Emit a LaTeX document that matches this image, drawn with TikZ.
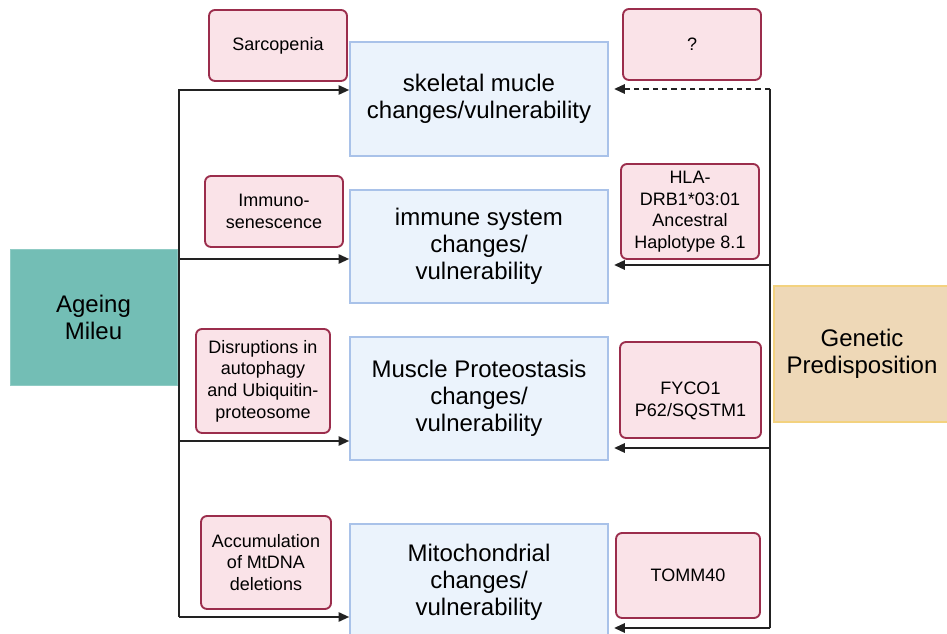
\documentclass[tikz,border=0pt]{standalone}
\usepackage{fontspec}
\setmainfont{Liberation Sans}
\usetikzlibrary{arrows.meta}
\definecolor{tealfill}{HTML}{73BEB5}
\definecolor{tanfill}{HTML}{EED8B7}
\definecolor{tanline}{HTML}{F3D27F}
\definecolor{pinkfill}{HTML}{FAE3E8}
\definecolor{pinkline}{HTML}{9B2D4C}
\definecolor{bluefill}{HTML}{EBF3FC}
\definecolor{blueline}{HTML}{A9C2E9}
\definecolor{arrowcol}{HTML}{222222}
\tikzset{
  pxsize/.style 2 args={minimum width=#1*0.75pt, minimum height=#2*0.75pt},
  bigtext/.style={font=\fontsize{18}{20.3}\selectfont, align=center, text=black},
  smalltext/.style={font=\fontsize{13.5}{16.2}\selectfont, align=center, text=black},
  bluebox/.style={rectangle, draw=blueline, fill=bluefill, line width=1.2pt, inner sep=0pt, bigtext},
  pinkbox/.style={rectangle, rounded corners=4.5pt, draw=pinkline, fill=pinkfill, line width=1.4pt, inner sep=0pt, smalltext},
  agebox/.style={rectangle, fill=tealfill, draw=tealfill!80!white, line width=0.6pt, inner sep=0pt, bigtext},
  genbox/.style={rectangle, fill=tanfill, draw=tanline, line width=1.2pt, inner sep=0pt, bigtext},
  conn/.style={draw=arrowcol, line width=1.4pt},
  arr/.style={conn, -{Triangle[length=8pt,width=7pt]}},
}
\begin{document}
\begin{tikzpicture}[x=0.75pt,y=-0.75pt]
\useasboundingbox (0,0) rectangle (947,634);
% main boxes
\node[bluebox, pxsize={258}{114}] (b1) at (479,99) {skeletal mucle\\changes/vulnerability};
\node[bluebox, pxsize={258}{113}] (b2) at (479,246.5) {immune system\\changes/\\vulnerability};
\node[bluebox, pxsize={258}{123}] (b3) at (479,398.5) {Muscle Proteostasis\\changes/\\vulnerability};
\node[bluebox, pxsize={258}{116}] (b4) at (479,582) {Mitochondrial\\changes/\\vulnerability};
\node[agebox, pxsize={167}{136}] (age) at (93.5,317) {Ageing\\Mileu};
\node[genbox, pxsize={176}{136}] (gen) at (862,354) {Genetic\\Predisposition};
% left pink
\node[pinkbox, pxsize={138}{71}] (sar) at (278,45.5) {Sarcopenia};
\node[pinkbox, pxsize={138}{71}] (imm) at (274,211.5) {Immuno-\\senescence};
\node[pinkbox, pxsize={134}{104}] (dis) at (263,381) {Disruptions in\\autophagy\\and Ubiquitin-\\proteosome};
\node[pinkbox, pxsize={130}{93}] (acc) at (266,562.5) {Accumulation\\of MtDNA\\deletions};
% right pink
\node[pinkbox, pxsize={138}{71}] (unk) at (692,44.5) {?};
\node[pinkbox, pxsize={138}{95}] (hla) at (690,211.5) {HLA-\\DRB1*03:01\\Ancestral\\Haplotype 8.1};
\node[pinkbox, pxsize={141}{96}] (fyc) at (690.5,390) {};
\node[smalltext] (fyct) at (690.5,401) {FYCO1\\P62/SQSTM1};
\node[pinkbox, pxsize={144}{85}] (tom) at (688,575.5) {TOMM40};
% left connectors
\coordinate (L1) at (179,90);
\coordinate (L2) at (179,259);
\coordinate (L3) at (179,441);
\coordinate (L4) at (179,617);
\draw[arr] (L4) -- (L1) -- (L1 -| b1.west);
\draw[arr] (L2) -- (L2 -| b2.west);
\draw[arr] (L3) -- (L3 -| b3.west);
\draw[arr] (L4) -- (L4 -| b4.west);
% right connectors
\coordinate (R1) at (770,89);
\coordinate (R2) at (770,265);
\coordinate (R3) at (770,448);
\coordinate (R4) at (770,628);
\draw[conn] (R1) -- (R4);
\draw[arr, dashed, dash pattern=on 4pt off 3pt, shorten >=4pt] (R1) -- (R1 -| b1.east);
\draw[arr, shorten >=4pt] (R2) -- (R2 -| b2.east);
\draw[arr, shorten >=4pt] (R3) -- (R3 -| b3.east);
\draw[arr, shorten >=4pt] (R4) -- (R4 -| b4.east);
\end{tikzpicture}
\end{document}
